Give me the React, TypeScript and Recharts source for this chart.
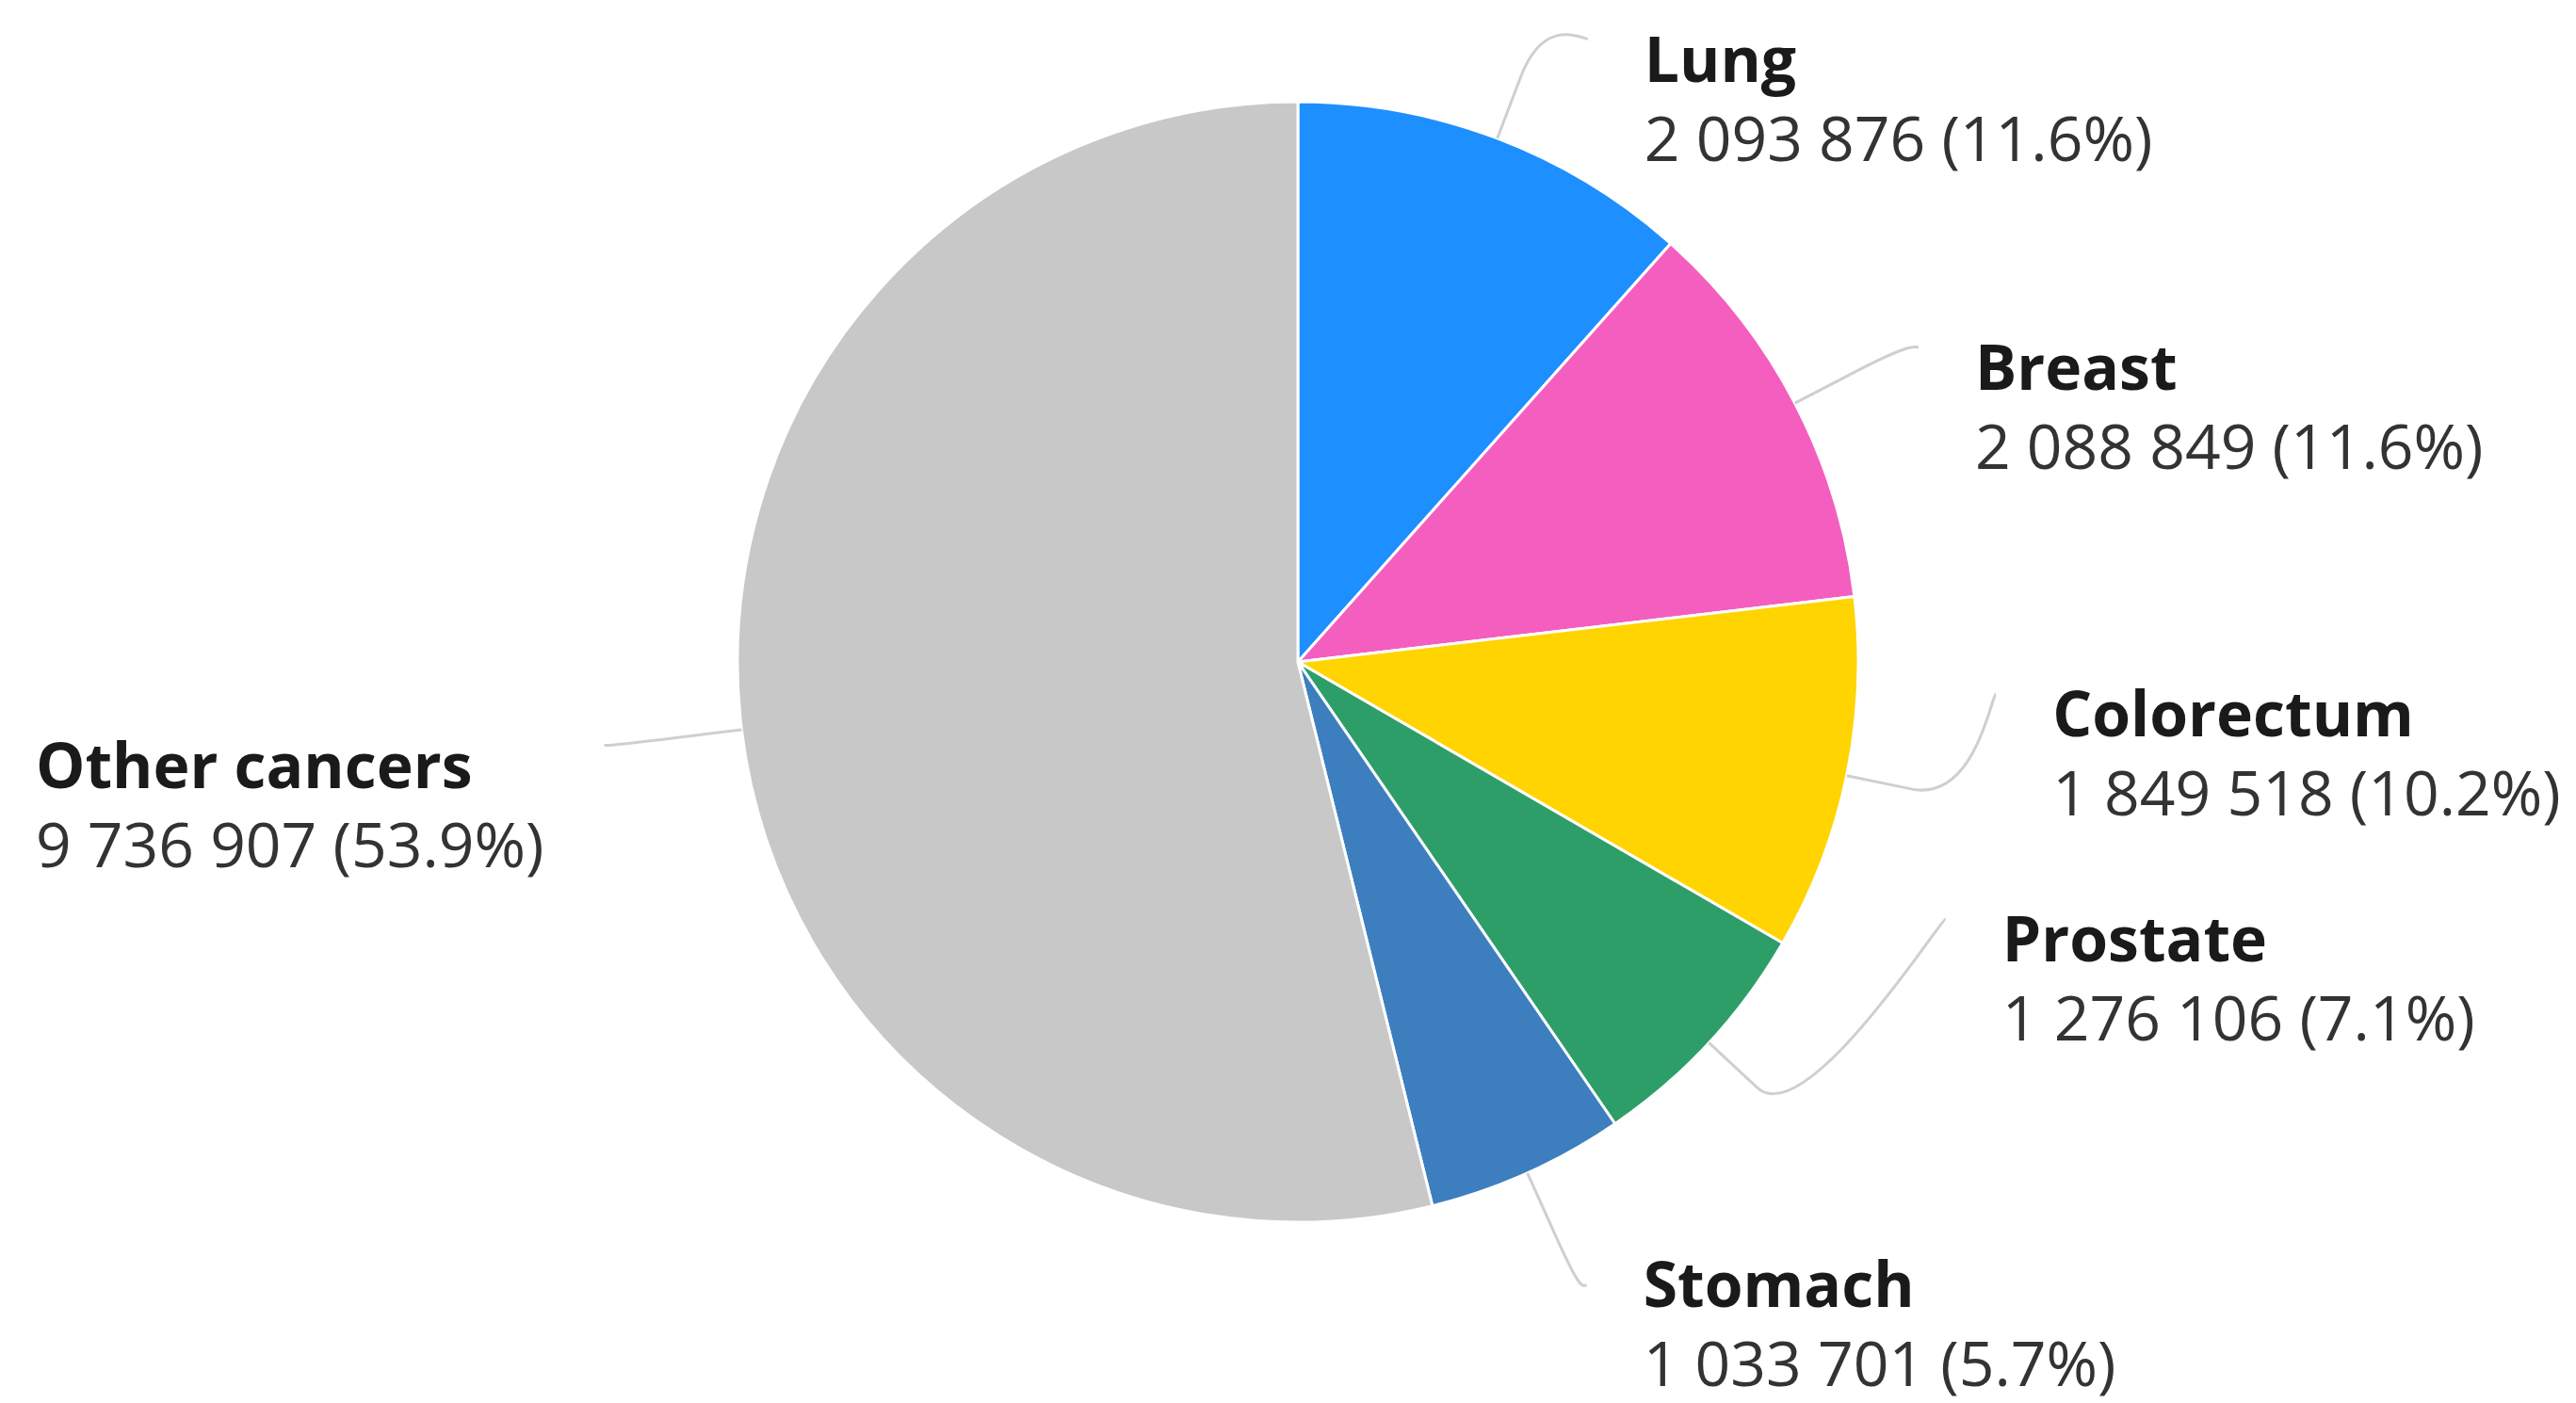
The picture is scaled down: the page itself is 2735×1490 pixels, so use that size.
import React from 'react';
import { PieChart, Pie, Cell } from 'recharts';

// ---- data ----
const categories: string[] = ['Lung', 'Breast', 'Colorectum', 'Prostate', 'Stomach', 'Other cancers'];
const cases: number[] = [2093876, 2088849, 1849518, 1276106, 1033701, 9736907];

// ---- style ----
const COLORS = ['#1e8fff', '#f45fbf', '#ffd400', '#2e9e69', '#3d7ebf', '#c8c8c8'];
// vertical label nudges (px) relative to the natural label position, like a per-point dataLabel offset
const LABEL_NUDGE = [31, 8, -116, -231, -14, -1];

const W = 2735;
const H = 1490;
const CX = 1378;
const CY = 703;
const R = 595;
const LABEL_R = 741;
const LABEL_RX = 742;
const LABEL_RY = 727;
const BREAK = 70;
const FONT = "'Open Sans', 'Noto Sans', sans-serif";
const FS = 66;
const LINE_GAP = 84;
const BOTTOM_PAD = 18;

const data = categories.map((name, i) => ({ name, value: cases[i] }));

const fmt = (v: number) => String(v).replace(/\B(?=(\d{3})+(?!\d))/g, ' ');

let ctx: CanvasRenderingContext2D | null = null;
const measure = (text: string, weight: number) => {
  if (!ctx) ctx = document.createElement('canvas').getContext('2d');
  if (!ctx) return text.length * FS * 0.55;
  ctx.font = `${weight} ${FS}px 'Open Sans'`;
  return ctx.measureText(text).width;
};

const renderLabel = (props: any) => {
  const { cx, cy, midAngle, outerRadius, percent, name, value } = props;
  const idx = categories.indexOf(name);
  const rad = Math.PI / 180;
  const cos = Math.cos(-midAngle * rad);
  const sin = Math.sin(-midAngle * rad);
  const ex = cx + outerRadius * cos;
  const ey = cy + outerRadius * sin;
  const bx = cx + (outerRadius + BREAK) * cos;
  const by = cy + (outerRadius + BREAK) * sin;
  const right = cos >= 0;
  const natY = cy + LABEL_R * sin;
  const ay = natY + (LABEL_NUDGE[idx] || 0);
  const k = Math.max(-1, Math.min(1, (ay - cy) / LABEL_RY));
  const ax = cx + (right ? 1 : -1) * LABEL_RX * Math.sqrt(1 - k * k);
  const path = `M${ax},${ay} C${ax + (right ? -5 : 5)},${ay} ${2 * bx - ex},${2 * by - ey} ${bx},${by} L${ex},${ey}`;
  const line2 = `${fmt(value)} (${(percent * 100).toFixed(1)}%)`;
  let tx: number;
  if (right) {
    tx = ax + 60;
  } else {
    const w = Math.max(measure(name, 700), measure(line2, 400));
    tx = ax - 64 - w;
  }
  const nameY = Math.min(ay + 45, H - BOTTOM_PAD - LINE_GAP);
  return (
    <g key={`lbl-${idx}`}>
      <path d={path} stroke="#cfcfcf" strokeWidth={3} fill="none" />
      <text x={tx} y={nameY} fontFamily={FONT} fontSize={FS} fontWeight={700} fill="#1a1a1a">
        {name}
      </text>
      <text x={tx} y={nameY + LINE_GAP} fontFamily={FONT} fontSize={FS} fontWeight={400} fill="#333333">
        {line2}
      </text>
    </g>
  );
};

export default function App() {
  return (
    <div style={{ position: 'absolute', left: 0, top: 0, width: W, height: H, background: '#ffffff' }}>
      <PieChart width={W} height={H} margin={{ top: 0, right: 0, bottom: 0, left: 0 }}>
        <Pie
          data={data}
          dataKey="value"
          nameKey="name"
          cx={CX}
          cy={CY}
          outerRadius={R}
          startAngle={90}
          endAngle={-270}
          stroke="#ffffff"
          strokeWidth={3}
          label={renderLabel}
          labelLine={false}
          isAnimationActive={false}
        >
          {data.map((d, i) => (
            <Cell key={d.name} fill={COLORS[i]} />
          ))}
        </Pie>
      </PieChart>
    </div>
  );
}
